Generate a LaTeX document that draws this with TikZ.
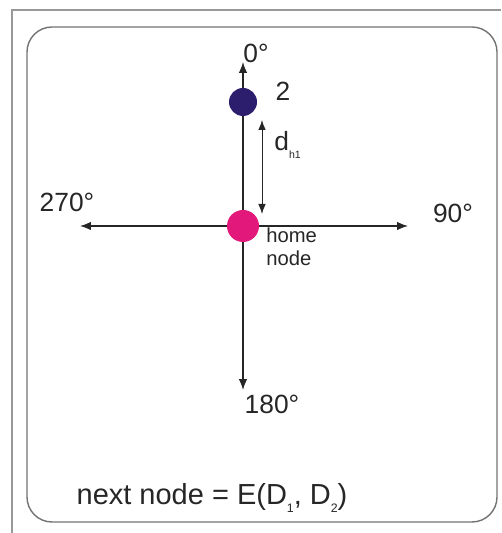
\documentclass[tikz,border=0pt]{standalone}
\usepackage{fontspec}
\setmainfont{Liberation Sans}
\usetikzlibrary{arrows.meta,positioning}
\definecolor{homepink}{RGB}{226,24,122}
\definecolor{navy}{RGB}{44,30,108}
\tikzset{
  frm/.style={draw=black!40,line width=.6pt},
  box/.style={draw=black!55,line width=.8pt,rounded corners=.5cm},
  ar/.style ={-{Latex[length=2.2mm,width=1.7mm]},line width=.7pt,black!85},
  dar/.style={{Latex[length=2mm,width=1.5mm]}-{Latex[length=2mm,width=1.5mm]},line width=.5pt,black!85},
  dot/.style={circle,inner sep=0pt},
  deg/.style={font=\fontsize{15}{18}\selectfont,text=black!85,inner sep=0pt},
  lbl/.style={font=\fontsize{11.5}{13}\selectfont,text=black!85,align=left,inner sep=0pt},
}
\begin{document}
\begin{tikzpicture}
  \useasboundingbox (-4.86,4.52) rectangle (5.16,-6.14);
  \draw[frm] (-4.62,-6.14) -- (-4.62,4.32) -- (5.16,4.32);
  \draw[box] (-4.32,3.98) rectangle (5.08,-5.92);
  \coordinate (top) at (0,3.28);
  \coordinate (bot) at (0,-3.28);
  \coordinate (lft) at (-3.26,0);
  \coordinate (rgt) at (3.3,0);
  \coordinate (dtop) at (.38,2.12);
  \coordinate (dbot) at (.38,.24);
  \draw[ar] (0,0) -- (top);
  \draw[ar] (0,0) -- (bot);
  \draw[ar] (0,0) -- (lft);
  \draw[ar] (0,0) -- (rgt);
  \node[dot,fill=navy,minimum size=.56cm] (n2) at (0,2.48){};
  \node[dot,fill=homepink,minimum size=.64cm] (home) at (0,0){};
  \draw[dar] (dtop) -- (dbot);
  \node[deg,anchor=south west] (t0) at (0,3.26){0°};
  \node[deg] (t2) at (.8,2.7){2};
  \node[deg,anchor=west] (tdh) at (.62,1.62){d\raisebox{-.55ex}{\fontsize{6}{7}\selectfont h1}};
  \node[deg] (t270) at (-3.52,.48){270°};
  \node[deg] (t90) at (4.2,.26){90°};
  \node[deg] (t180) at (.58,-3.56){180°};
  \node[lbl,anchor=west] (thome) at (.46,-.42){home\\node};
  \node[deg,font=\fontsize{16.5}{20}\selectfont] (tnext) at (-.62,-5.44)
        {next node = E(D\raisebox{-.5ex}{\fontsize{7}{8}\selectfont 1}, D\raisebox{-.5ex}{\fontsize{7}{8}\selectfont 2})};
\end{tikzpicture}
\end{document}
